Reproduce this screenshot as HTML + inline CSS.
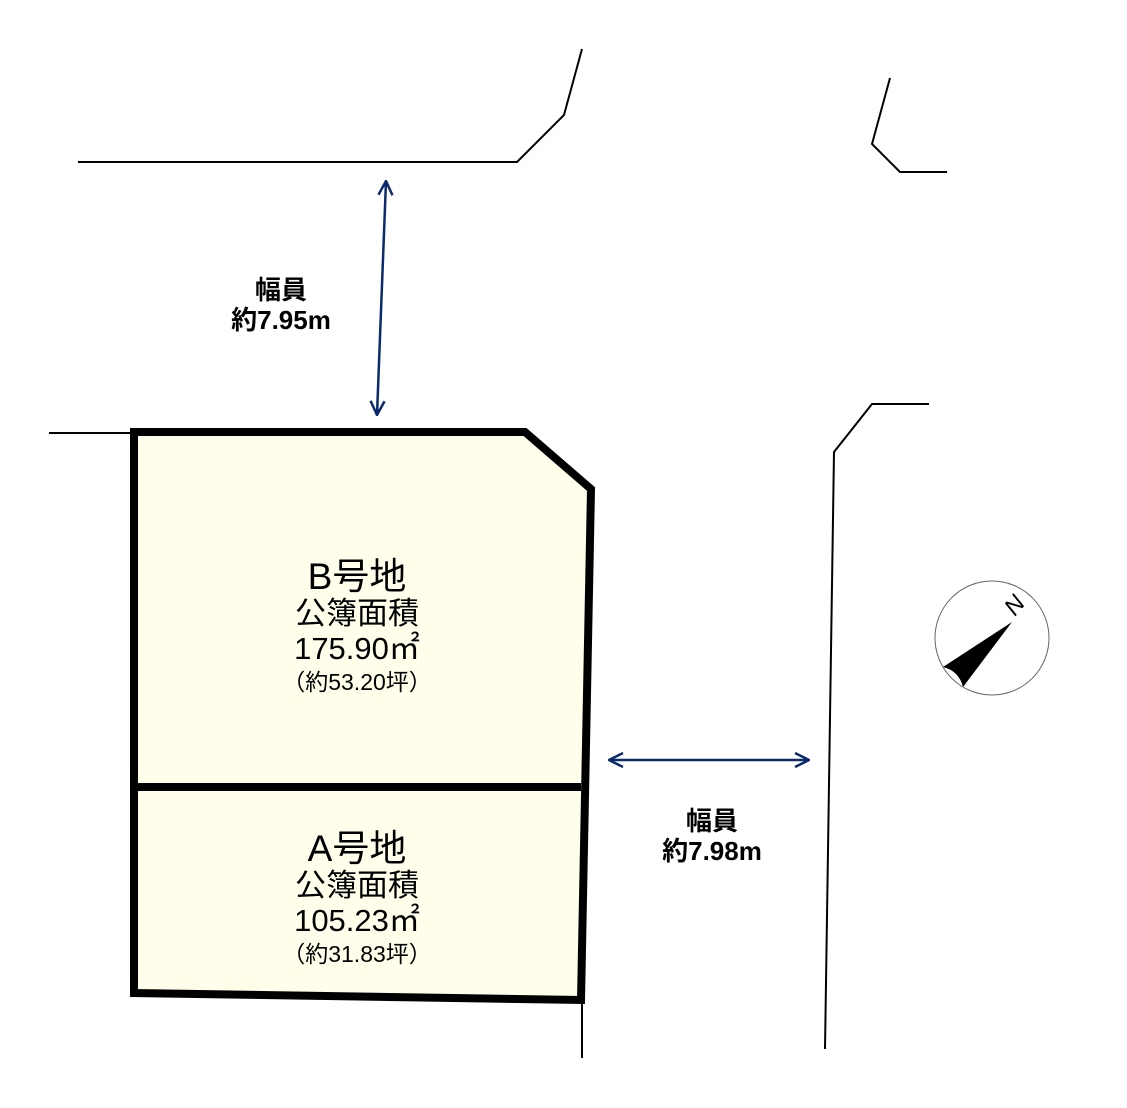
<!DOCTYPE html>
<html><head><meta charset="utf-8"><style>
html,body{margin:0;padding:0;background:#fff;}
svg{display:block;}
text{font-family:"Liberation Sans","Noto Sans CJK JP",sans-serif;}
</style></head><body>
<svg width="1127" height="1108" viewBox="0 0 1127 1108" xmlns="http://www.w3.org/2000/svg">
<defs>
<marker id="ar" viewBox="0 0 16 16" refX="15" refY="8" markerWidth="16" markerHeight="16" orient="auto-start-reverse" markerUnits="userSpaceOnUse">
<path d="M1,1 L15,8 L1,15" fill="none" stroke="#0b2a6b" stroke-width="2.5"/>
</marker>
</defs>
<g fill="none" stroke="#000" stroke-width="2">
<polyline points="78,162 517,162 564,115 582,49"/>
<polyline points="890,78 872,144 900,172 947,172"/>
<polyline points="825,1049 834,452 872,404 929,404"/>
<line x1="49" y1="433" x2="134" y2="433"/>
<line x1="582" y1="1000" x2="582" y2="1058"/>
</g>
<polygon points="134,432 525,432 591,489 581,1000 134,993" fill="#fefeea" stroke="#000" stroke-width="8" stroke-linejoin="miter"/>
<line x1="134" y1="787" x2="581" y2="787" stroke="#000" stroke-width="8"/>
<line x1="386" y1="181" x2="377" y2="415" stroke="#0b2a6b" stroke-width="2.5" marker-start="url(#ar)" marker-end="url(#ar)"/>
<line x1="609" y1="760" x2="809" y2="760" stroke="#0b2a6b" stroke-width="2.5" marker-start="url(#ar)" marker-end="url(#ar)"/>
<g font-weight="bold" font-size="26" text-anchor="middle" fill="#000">
<text x="281" y="299">幅員</text>
<text x="281" y="329">約7.95m</text>
<text x="712" y="830">幅員</text>
<text x="712" y="860">約7.98m</text>
</g>
<g text-anchor="middle" fill="#000">
<text x="357" y="589" font-size="37">B号地</text>
<text x="357" y="624" font-size="31">公簿面積</text>
<text x="357" y="659" font-size="31">175.90㎡</text>
<text x="357" y="690" font-size="23">（約53.20坪）</text>
<text x="357" y="861" font-size="37">A号地</text>
<text x="357" y="896" font-size="31">公簿面積</text>
<text x="357" y="931" font-size="31">105.23㎡</text>
<text x="357" y="962" font-size="23">（約31.83坪）</text>
</g>
<circle cx="992" cy="638" r="57" fill="#fff" stroke="#666" stroke-width="1"/>
<path d="M1012,622 L943,667 Q959,671 963,687 Z" fill="#000"/>
<text x="0" y="0" font-family="Liberation Serif,serif" font-size="24" font-style="italic" transform="translate(1015,617) rotate(-50)">N</text>
</svg>
</body></html>
